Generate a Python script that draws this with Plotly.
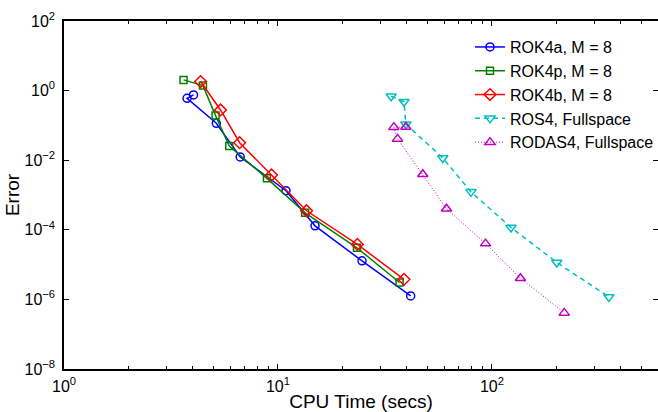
import plotly.graph_objects as go

# ---- data ----
rok4a_t = [4.03, 3.76, 5.15, 6.66, 10.9, 14.9, 24.7, 41.7]
rok4a_e = [0.75, 0.60, 0.115, 0.0124, 1.33e-3, 1.30e-4, 1.28e-5, 1.26e-6]

rok4p_t = [3.62, 4.46, 5.11, 5.92, 8.88, 13.4, 23.4, 37.0]
rok4p_e = [2.03, 1.39, 0.191, 0.0256, 3.01e-3, 3.08e-4, 3.03e-5, 3.06e-6]

rok4b_t = [4.35, 5.39, 6.62, 9.33, 13.6, 23.5, 38.8]
rok4b_e = [1.82, 0.278, 0.0319, 3.75e-3, 3.52e-4, 3.80e-5, 3.77e-6]

ros4_t = [33.8, 38.8, 39.6, 58.9, 79.8, 122.7, 200.9, 352.0]
ros4_e = [0.69, 0.48, 0.108, 0.0116, 1.23e-3, 1.17e-4, 1.15e-5, 1.18e-6]

rodas4_t = [39.6, 34.8, 36.2, 47.5, 61.3, 93.3, 135.9, 217.7]
rodas4_e = [0.090, 0.089, 0.041, 3.93e-3, 4.02e-4, 4.01e-5, 4.07e-6, 4.09e-7]

series_names = ["ROK4a, M = 8", "ROK4p, M = 8", "ROK4b, M = 8",
                "ROS4, Fullspace", "RODAS4, Fullspace"]

x_tickvals = [1, 10, 100]
x_ticktext = ["10<sup>0</sup>", "10<sup>1</sup>", "10<sup>2</sup>"]
x_minor = [2, 3, 4, 5, 6, 7, 8, 9, 20, 30, 40, 50, 60, 70, 80, 90,
           200, 300, 400, 500, 600]
y_tickvals = [1e2, 1e0, 1e-2, 1e-4, 1e-6, 1e-8]
y_ticktext = ["10<sup>2</sup>", "10<sup>0</sup>", "10<sup>−2</sup>",
              "10<sup>−4</sup>", "10<sup>−6</sup>", "10<sup>−8</sup>"]

FONT = "Liberation Sans, Arial, Helvetica, sans-serif"

styles = [
    dict(color="#0000FF", symbol="circle-open", size=8, dash="solid", width=1.5),
    dict(color="#008000", symbol="square-open", size=7, dash="solid", width=1.5),
    dict(color="#FF0000", symbol="diamond-open", size=9, dash="solid", width=1.5),
    dict(color="#00BFBF", symbol="triangle-down-open", size=9, dash="5px,4px", width=1.5),
    dict(color="#BF00BF", symbol="triangle-up-open", size=9, dash="1px,2px", width=1),
]
xs = [rok4a_t, rok4p_t, rok4b_t, ros4_t, rodas4_t]
ys = [rok4a_e, rok4p_e, rok4b_e, ros4_e, rodas4_e]

fig = go.Figure()
for name, x, y, s in zip(series_names, xs, ys, styles):
    fig.add_trace(go.Scatter(
        x=x, y=y, name=name, mode="lines+markers",
        line=dict(color=s["color"], width=s["width"], dash=s["dash"]),
        marker=dict(symbol=s["symbol"], size=s["size"], color=s["color"],
                    line=dict(color=s["color"], width=1.5)),
    ))

axis_common = dict(
    showline=True, linecolor="black", linewidth=1.5, mirror="ticks",
    ticks="inside", ticklen=5, tickwidth=1, tickcolor="black",
    showgrid=False, zeroline=False,
    tickfont=dict(family=FONT, size=16, color="black"),
    title_font=dict(family=FONT, size=19, color="black"),
)

fig.update_xaxes(
    type="log", range=[0, 2.776],
    tickmode="array", tickvals=x_tickvals, ticktext=x_ticktext,
    minor=dict(ticks="inside", ticklen=3, tickcolor="black", tickwidth=1,
               tickmode="array", tickvals=x_minor, showgrid=False),
    title=dict(text="CPU Time (secs)", standoff=0),
    ticklabelstandoff=2,
    **axis_common,
)
fig.update_yaxes(
    type="log", range=[-8, 2],
    tickmode="array", tickvals=y_tickvals, ticktext=y_ticktext,
    title=dict(text="Error", standoff=0),
    ticklabelstandoff=4,
    **axis_common,
)

fig.update_layout(
    width=658, height=412,
    margin=dict(l=64, r=0, t=21, b=43, autoexpand=False),
    paper_bgcolor="white", plot_bgcolor="white",
    font=dict(family=FONT, size=16, color="black"),
    showlegend=True,
    legend=dict(x=0.6835, y=0.974, xanchor="left", yanchor="top",
                bgcolor="rgba(255,255,255,0)", borderwidth=0,
                font=dict(family=FONT, size=16, color="black")),
)

fig.write_html("out.html", config={"displayModeBar": False},
               post_script="document.body.style.margin='0';document.body.style.overflow='hidden';")
